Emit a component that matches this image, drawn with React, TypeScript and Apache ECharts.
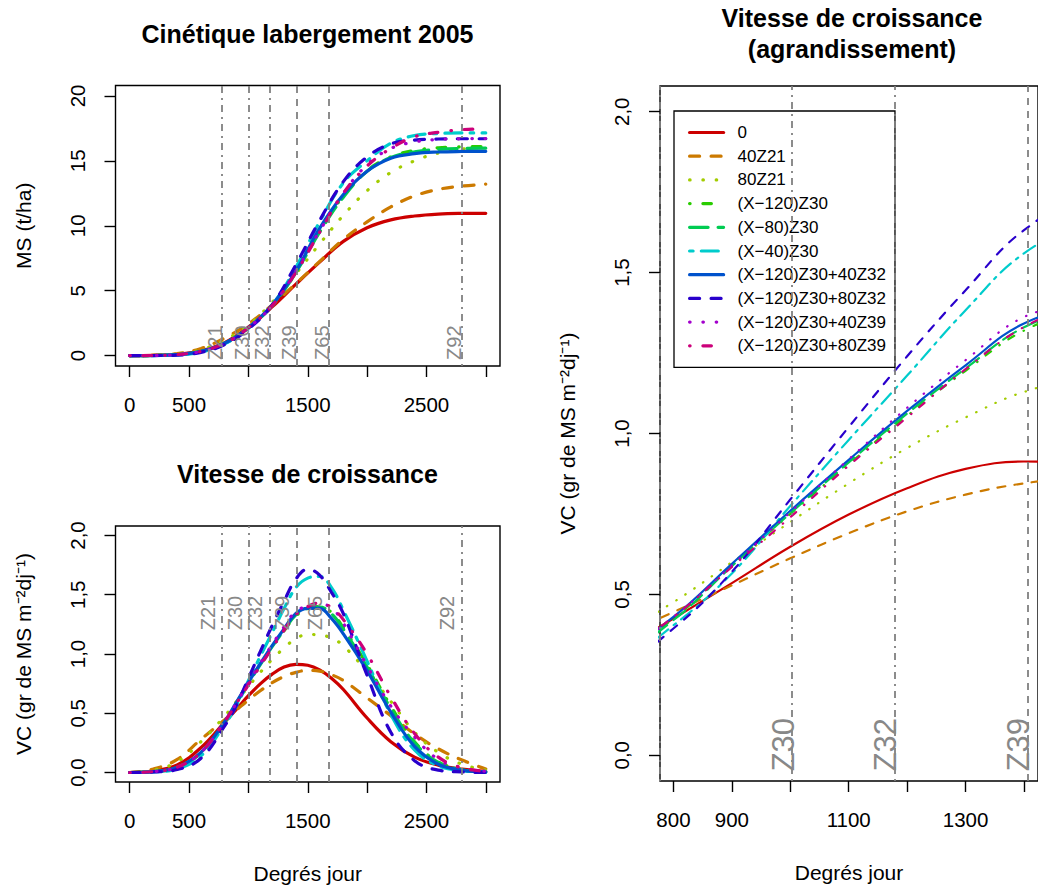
import React, { useEffect, useRef } from 'react';
import * as echarts from 'echarts';

const FONT = "'Liberation Sans', Arial, Helvetica, sans-serif";

const seriesNames = [
  '0', '40Z21', '80Z21', '(X−120)Z30', '(X−80)Z30', '(X−40)Z30',
  '(X−120)Z30+40Z32', '(X−120)Z30+80Z32', '(X−120)Z30+40Z39', '(X−120)Z30+80Z39',
];
const seriesColors = ['#CC0000', '#CC7A00', '#A3CC00', '#29CC00', '#00CC52', '#00CCCC', '#0052CC', '#2900CC', '#A300CC', '#CC007A'];
const seriesLty = ['solid', 'dashed', 'dotted', 'dotdash', 'longdash', 'twodash', 'solid', 'dashed', 'dotted', 'dotdash'];

// Cumulative dry matter MS (t/ha)
const msX = [0, 200, 400, 600, 800, 1000, 1200, 1400, 1600, 1800, 2000, 2200, 2400, 2600, 2800, 3000];
const ms0 = [0, 0.02, 0.1, 0.37, 1.0, 2.2, 3.75, 5.5, 7.2, 8.8, 9.85, 10.45, 10.75, 10.9, 10.95, 10.96];
const ms40Z21 = [0, 0.03, 0.15, 0.55, 1.35, 2.45, 3.9, 5.55, 7.25, 8.95, 10.3, 11.45, 12.3, 12.8, 13.05, 13.2];
const ms80Z21 = [0, 0.02, 0.12, 0.45, 1.2, 2.35, 4.1, 6.3, 8.6, 10.8, 12.7, 14.1, 15.0, 15.6, 15.9, 16.05];
const msX120Z30 = [0, 0.01, 0.08, 0.33, 0.95, 2.15, 3.85, 6.4, 9.6, 12.3, 14.25, 15.3, 15.8, 16.0, 16.08, 16.1];
const msX80Z30 = [0, 0.01, 0.08, 0.33, 0.95, 2.15, 3.85, 6.4, 9.5, 12.2, 14.2, 15.25, 15.7, 15.88, 15.95, 15.97];
const msX40Z30 = [0, 0.005, 0.05, 0.28, 0.9, 2.1, 3.9, 6.8, 10.3, 13.3, 15.0, 16.35, 16.95, 17.1, 17.15, 17.15];
const ms40Z32 = [0, 0.01, 0.08, 0.33, 0.95, 2.15, 3.9, 6.5, 9.8, 12.4, 14.2, 15.2, 15.55, 15.68, 15.72, 15.73];
const ms80Z32 = [0, 0.005, 0.04, 0.25, 0.85, 2.05, 3.9, 7.0, 10.4, 13.4, 15.3, 16.3, 16.6, 16.68, 16.7, 16.7];
const ms40Z39 = [0, 0.01, 0.08, 0.33, 0.95, 2.15, 3.85, 6.5, 9.6, 12.5, 14.7, 15.95, 16.45, 16.65, 16.7, 16.72];
const ms80Z39 = [0, 0.01, 0.08, 0.33, 0.95, 2.15, 3.85, 6.4, 9.5, 12.5, 14.6, 15.95, 16.85, 17.2, 17.4, 17.46];

// Growth rate VC (g m-2 dj-1)
const vcX = [0, 200, 400, 600, 800, 900, 1000, 1100, 1200, 1300, 1400, 1500, 1600, 1700, 1800, 2000, 2200, 2400, 2600, 2800, 3000];
const vc0 = [0, 0.015, 0.065, 0.21, 0.425, 0.535, 0.648, 0.748, 0.83, 0.89, 0.913, 0.905, 0.866, 0.795, 0.7, 0.46, 0.26, 0.13, 0.062, 0.028, 0.01];
const vc40Z21 = [0, 0.03, 0.11, 0.28, 0.445, 0.528, 0.612, 0.69, 0.758, 0.81, 0.845, 0.862, 0.856, 0.825, 0.777, 0.63, 0.48, 0.325, 0.2, 0.105, 0.03];
const vc80Z21 = [0, 0.02, 0.09, 0.26, 0.476, 0.6, 0.725, 0.845, 0.955, 1.05, 1.129, 1.165, 1.16, 1.135, 1.07, 0.85, 0.6, 0.34, 0.17, 0.07, 0.02];
const vcX120Z30 = [0, 0.008, 0.045, 0.17, 0.425, 0.59, 0.75, 0.905, 1.055, 1.195, 1.32, 1.38, 1.4, 1.35, 1.22, 0.91, 0.56, 0.26, 0.09, 0.025, 0.005];
const vcX80Z30 = [0, 0.007, 0.042, 0.165, 0.42, 0.588, 0.752, 0.91, 1.062, 1.202, 1.33, 1.385, 1.395, 1.34, 1.21, 0.89, 0.54, 0.25, 0.085, 0.022, 0.005];
const vcX40Z30 = [0, 0.005, 0.03, 0.14, 0.404, 0.565, 0.775, 0.98, 1.18, 1.383, 1.56, 1.64, 1.655, 1.56, 1.37, 0.94, 0.49, 0.19, 0.057, 0.015, 0.003];
const vc40Z32 = [0, 0.008, 0.045, 0.17, 0.43, 0.595, 0.76, 0.918, 1.07, 1.212, 1.342, 1.385, 1.385, 1.3, 1.17, 0.86, 0.51, 0.22, 0.07, 0.02, 0.005];
const vc80Z32 = [0, 0.005, 0.025, 0.12, 0.394, 0.57, 0.795, 1.02, 1.24, 1.445, 1.632, 1.715, 1.665, 1.52, 1.34, 0.82, 0.34, 0.1, 0.02, 0.005, 0];
const vc40Z39 = [0, 0.008, 0.045, 0.17, 0.43, 0.59, 0.755, 0.92, 1.08, 1.228, 1.362, 1.4, 1.42, 1.39, 1.26, 0.9, 0.56, 0.3, 0.11, 0.04, 0.01];
const vc80Z39 = [0, 0.008, 0.045, 0.17, 0.43, 0.585, 0.74, 0.9, 1.05, 1.2, 1.331, 1.4, 1.43, 1.39, 1.29, 1.0, 0.64, 0.33, 0.13, 0.04, 0.01];

const msValues = [ms0, ms40Z21, ms80Z21, msX120Z30, msX80Z30, msX40Z30, ms40Z32, ms80Z32, ms40Z39, ms80Z39];
const vcValues = [vc0, vc40Z21, vc80Z21, vcX120Z30, vcX80Z30, vcX40Z30, vc40Z32, vc80Z32, vc40Z39, vc80Z39];

// Growth stages (vertical lines)
const stageNames = ['Z21', 'Z30', 'Z32', 'Z39', 'Z65', 'Z92'];
const stageX = [777, 1003, 1178, 1406, 1677, 2795];
const stageLty = ['dotdash', 'dotdash', 'dotdash', 'dashed', 'dashed', 'dotdash'];

// Axis ticks / labels
const leftXTicks = [0, 500, 1000, 1500, 2000, 2500, 3000];
const leftXLabels = [0, 500, 1500, 2500];
const msYTicks = [0, 5, 10, 15, 20];
const vcYTicks = [0, 0.5, 1, 1.5, 2];
const rightXTicks = [800, 900, 1000, 1100, 1200, 1300, 1400];
const rightXLabels = [800, 900, 1100, 1300];

function dashFor(lty: string, s: number): any {
  switch (lty) {
    case 'dashed': return [10 * s, 11.5 * s];
    case 'dotted': return [0.5, 12.8 * s];
    case 'dotdash': return [0.5, 12.8 * s, 8.5 * s, 13.2 * s];
    case 'longdash': return [18.5 * s, 10 * s];
    case 'twodash': return [3.5 * s, 8.2 * s, 17 * s, 8.2 * s];
    default: return 'solid';
  }
}

const comma = (v: number) => v.toFixed(1).replace('.', ',');

function buildOption(): any {
  const grids = [
    { left: 115.5, top: 85.5, width: 384.5, height: 280.5 },
    { left: 115.5, top: 526, width: 384.5, height: 256 },
    { left: 660, top: 86, width: 384, height: 695 },
  ].map((g) => ({ ...g, show: true, borderColor: '#000', borderWidth: 1.4, backgroundColor: 'transparent', containLabel: false }));

  const tickStyle = { show: true, length: 11, lineStyle: { color: '#000', width: 1.4 } };
  const labelBase = { color: '#000', fontSize: 20.5, fontFamily: FONT, margin: 28 };
  const nameStyle = { color: '#000', fontSize: 21, fontFamily: FONT };

  const xAxis = [
    {
      type: 'value', gridIndex: 0, min: -120, max: 3120,
      axisLine: { show: false, onZero: false }, splitLine: { show: false },
      axisTick: { ...tickStyle, customValues: leftXTicks },
      axisLabel: { ...labelBase, customValues: leftXLabels, formatter: (v: number) => String(v) },
    },
    {
      type: 'value', gridIndex: 1, min: -120, max: 3120,
      axisLine: { show: false, onZero: false }, splitLine: { show: false },
      axisTick: { ...tickStyle, customValues: leftXTicks },
      axisLabel: { ...labelBase, customValues: leftXLabels, formatter: (v: number) => String(v) },
      name: 'Degrés jour', nameLocation: 'middle', nameGap: 81, nameTextStyle: nameStyle,
    },
    {
      type: 'value', gridIndex: 2, min: 777, max: 1424,
      axisLine: { show: false, onZero: false }, splitLine: { show: false },
      axisTick: { ...tickStyle, customValues: rightXTicks },
      axisLabel: { ...labelBase, customValues: rightXLabels, formatter: (v: number) => String(v) },
      name: 'Degrés jour', nameLocation: 'middle', nameGap: 81, nameTextStyle: nameStyle,
    },
  ];

  const vcName = 'VC (gr de MS m⁻²dj⁻¹)';
  const yAxis = [
    {
      type: 'value', gridIndex: 0, min: -0.8, max: 20.8,
      axisLine: { show: false, onZero: false }, splitLine: { show: false },
      axisTick: { ...tickStyle, customValues: msYTicks },
      axisLabel: { ...labelBase, rotate: 90, customValues: msYTicks, formatter: (v: number) => String(v) },
      name: 'MS (t/ha)', nameLocation: 'middle', nameGap: 82, nameTextStyle: nameStyle,
    },
    {
      type: 'value', gridIndex: 1, min: -0.08, max: 2.08,
      axisLine: { show: false, onZero: false }, splitLine: { show: false },
      axisTick: { ...tickStyle, customValues: vcYTicks },
      axisLabel: { ...labelBase, rotate: 90, customValues: vcYTicks, formatter: comma },
      name: vcName, nameLocation: 'middle', nameGap: 82, nameTextStyle: nameStyle,
    },
    {
      type: 'value', gridIndex: 2, min: -0.08, max: 2.08,
      axisLine: { show: false, onZero: false }, splitLine: { show: false },
      axisTick: { ...tickStyle, customValues: vcYTicks },
      axisLabel: { ...labelBase, rotate: 90, customValues: vcYTicks, formatter: comma },
      name: vcName, nameLocation: 'middle', nameGap: 82, nameTextStyle: nameStyle,
    },
  ];

  const series: any[] = [];
  // stage lines (one holder series per grid)
  for (let g = 0; g < 3; g++) {
    series.push({
      type: 'line', xAxisIndex: g, yAxisIndex: g, data: [], silent: true, z: 1,
      markLine: {
        silent: true, symbol: ['none', 'none'], animation: false,
        label: { show: false },
        data: stageX.map((x, k) => ({
          xAxis: x,
          lineStyle: {
            color: '#808080', width: 1.8,
            type: stageLty[k] === 'dashed' ? [7, 6] : [2, 5, 7, 5],
          },
        })),
      },
    });
  }
  for (let g = 0; g < 3; g++) {
    const xs = g === 0 ? msX : vcX;
    const vals = g === 0 ? msValues : vcValues;
    const s = g === 2 ? 0.8 : 1;
    const w = g === 2 ? 2.2 : 3.2;
    for (let i = 0; i < seriesNames.length; i++) {
      series.push({
        type: 'line', name: seriesNames[i], xAxisIndex: g, yAxisIndex: g,
        data: xs.map((x, k) => [x, vals[i][k]]),
        smooth: 0.4, symbol: 'none', silent: true, z: 2, clip: true,
        lineStyle: { color: seriesColors[i], width: w, type: dashFor(seriesLty[i], s), cap: 'round' },
        itemStyle: { color: seriesColors[i] },
      });
    }
  }

  return {
    animation: false,
    grid: grids,
    xAxis, yAxis, series,
    legend: {
      orient: 'vertical', left: 674, top: 111,
      data: seriesNames, selectedMode: false,
      itemWidth: 34, itemHeight: 14, itemGap: 6.7,
      padding: [13, 9, 13, 14],
      borderColor: '#000', borderWidth: 1.3, backgroundColor: 'transparent',
      itemStyle: { opacity: 0 },
      lineStyle: { width: 3.2 },
      textStyle: { fontSize: 17, color: '#000', fontFamily: FONT, padding: [0, 0, 0, 9], lineHeight: 14 },
    },
  };
}

export default function App() {
  const ref = useRef<HTMLDivElement>(null);
  useEffect(() => {
    document.body.style.margin = '0';
    const chart = echarts.init(ref.current!, null, { renderer: 'svg' });
    chart.setOption(buildOption());

    const graphic: any[] = [
      {
        type: 'text', x: 307.5, y: 33.5,
        style: { text: 'Cinétique labergement 2005', fontSize: 25, fontWeight: 'bold', fontFamily: FONT, fill: '#000', align: 'center', verticalAlign: 'middle' },
      },
      {
        type: 'text', x: 307.5, y: 474,
        style: { text: 'Vitesse de croissance', fontSize: 25, fontWeight: 'bold', fontFamily: FONT, fill: '#000', align: 'center', verticalAlign: 'middle' },
      },
      {
        type: 'text', x: 852, y: 33.5,
        style: { text: 'Vitesse de croissance\n(agrandissement)', fontSize: 25, fontWeight: 'bold', fontFamily: FONT, fill: '#000', align: 'center', verticalAlign: 'middle', lineHeight: 31 },
      },
    ];
    const labelCfg = [
      { y: -0.33, dx: -7.2, size: 20, stages: [0, 1, 2, 3, 4, 5] },
      { y: 1.2, dx: -14.2, size: 20, stages: [0, 1, 2, 3, 4, 5] },
      { y: -0.05, dx: -9, size: 31, stages: [1, 2, 3] },
    ];
    labelCfg.forEach((c, g) => {
      c.stages.forEach((k) => {
        const p = chart.convertToPixel({ xAxisIndex: g, yAxisIndex: g } as any, [stageX[k], c.y]) as number[];
        graphic.push({
          type: 'text', x: p[0] + c.dx, y: p[1], rotation: Math.PI / 2, z: 5,
          style: { text: stageNames[k], fontSize: c.size, fontFamily: FONT, fill: '#888888', align: 'left', verticalAlign: 'middle' },
        });
      });
    });
    chart.setOption({ graphic });
    return () => chart.dispose();
  }, []);
  return <div ref={ref} style={{ width: 1038, height: 889 }} />;
}
